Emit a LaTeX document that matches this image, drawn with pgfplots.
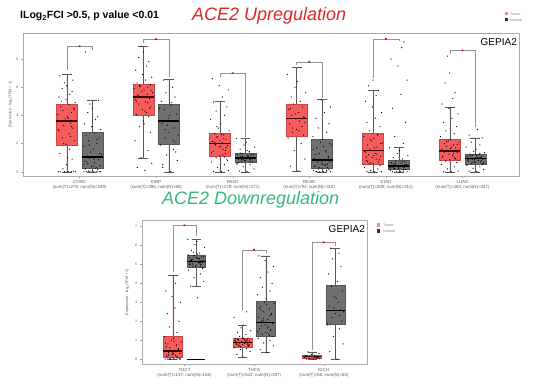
\documentclass[border=0pt]{standalone}
\usepackage{fontspec}
\setmainfont{Liberation Sans}
\usepackage{pgfplots}
\pgfplotsset{compat=1.18}
\usepackage{pgfplotstable}
\usepgfplotslibrary{statistics}
\definecolor{tumor}{RGB}{246,92,92}
\definecolor{tumordk}{RGB}{200,70,70}
\definecolor{normal}{RGB}{112,112,112}
\definecolor{normaldk}{RGB}{85,85,85}
\definecolor{upred}{RGB}{222,38,38}
\definecolor{downgreen}{RGB}{52,186,118}
\definecolor{legpink}{RGB}{236,140,150}
\definecolor{lbl}{RGB}{90,90,90}

\pgfplotstableread{
dx coadT coadN kirpT kirpN paadT paadN readT readN stadT stadN luadT luadN
0.02 0 0 0.1 0 0 0 0.05 0 0 0 0 0
-0.08 0 0 0.3 0.3 0 0.05 0.4 0 0 0 0 0.05
0.11 0 0 0.6 0.8 0.1 0.2 0.9 0 0 0 0.05 0.15
-0.03 0 0 1.0 1.2 0.3 0.35 1.5 0 0.1 0 0.2 0.25
0.06 0 0 1.5 1.6 0.5 0.5 2.0 0.05 0.2 0.05 0.35 0.35
-0.11 0 0 2.2 1.9 0.7 0.6 2.4 0.1 0.3 0.1 0.5 0.45
0.09 0.05 0 2.8 2.1 0.9 0.7 2.6 0.15 0.45 0.15 0.65 0.5
-0.05 0.2 0.05 3.2 2.4 1.0 0.75 2.8 0.2 0.55 0.2 0.75 0.6
0.00 0.5 0.1 3.6 2.8 1.15 0.8 3.0 0.25 0.6 0.25 0.85 0.65
0.07 0.9 0.15 3.9 3.1 1.3 0.85 3.2 0.3 0.7 0.3 0.95 0.7
-0.09 1.3 0.2 4.05 3.4 1.45 0.9 3.4 0.4 0.8 0.35 1.05 0.75
0.04 1.6 0.25 4.2 3.6 1.6 0.95 3.6 0.5 0.9 0.4 1.15 0.8
-0.01 1.95 0.35 4.4 3.8 1.75 1.0 3.75 0.6 1.0 0.45 1.25 0.85
0.10 2.2 0.45 4.6 4.1 1.85 1.05 3.85 0.7 1.1 0.5 1.35 0.9
-0.06 2.4 0.55 4.8 4.4 1.95 1.1 4.0 0.8 1.2 0.55 1.45 0.95
0.03 2.7 0.65 4.95 4.7 2.05 1.15 4.2 0.85 1.3 0.6 1.5 1.0
-0.10 2.9 0.75 5.1 5.0 2.15 1.2 4.4 0.95 1.4 0.65 1.6 1.05
0.08 3.1 0.85 5.2 5.3 2.3 1.25 4.6 1.1 1.5 0.7 1.7 1.1
-0.04 3.3 0.95 5.3 5.6 2.45 1.3 4.8 1.3 1.6 0.75 1.8 1.15
0.05 3.45 1.0 5.35 6.0 2.6 1.45 5.0 1.5 1.75 0.9 1.9 1.2
-0.07 3.55 1.1 5.45 6.5 2.7 1.6 5.3 1.7 1.9 1.0 2.0 1.25
0.12 3.65 1.2 5.6 2.6 2.9 1.75 5.6 1.9 2.05 1.15 2.1 1.35
-0.02 3.75 1.4 5.7 3.3 3.1 1.9 6.0 2.1 2.2 1.3 2.2 1.45
0.01 3.9 1.6 5.8 4.0 3.4 2.1 6.4 2.3 2.35 1.5 2.3 1.6
-0.12 4.05 1.8 5.9 4.5 3.7 2.35 6.9 2.5 2.5 1.7 2.5 1.75
0.06 4.2 2.0 6.0 2.2 4.0 0.72 7.4 2.8 2.65 2.0 2.7 1.9
-0.05 4.35 2.2 6.1 3.0 4.3 0.88 3.1 3.1 2.9 2.5 2.9 2.1
0.09 4.5 2.4 6.15 1.4 4.6 0.93 3.9 3.4 3.2 3.5 3.2 2.4
-0.08 4.6 2.6 6.3 0.5 4.95 1.02 4.5 3.8 3.5 4.5 3.5 2.6
0.03 4.75 2.75 6.5 4.9 5.3 1.12 2.9 4.2 3.8 5.5 3.8 3.0
0.11 4.9 3.0 6.7 nan 5.8 1.22 3.5 4.6 4.2 6.5 4.1 0.62
-0.01 5.1 3.2 6.9 nan 6.1 0.78 4.1 5.1 4.6 7.5 4.5 0.72
-0.10 5.3 3.4 7.2 nan 6.6 0.98 nan 0.35 5.0 8.0 4.8 0.82
0.04 5.5 3.7 7.5 nan 1.2 1.08 nan 0.45 5.4 8.8 5.2 0.92
0.07 5.7 3.9 7.8 nan 1.5 1.18 nan 0.55 5.75 9.2 5.6 1.02
-0.06 5.9 4.2 8.1 nan 1.9 1.28 nan 0.65 6.1 0.22 6.3 1.12
0.00 6.1 4.5 8.5 nan 2.2 0.82 nan 0.75 6.5 0.32 7.0 1.22
-0.03 6.3 4.8 8.9 nan 2.5 0.9 nan 0.9 0.65 0.42 8.2 0.68
0.08 6.5 5.05 4.5 nan 1.7 1.0 nan 1.0 0.85 0.52 0.9 0.78
-0.09 6.8 8.5 5.0 nan 2.0 0.65 nan 1.2 1.05 0.62 1.1 0.88
0.05 2.5 0.3 5.5 nan 2.35 1.4 nan 1.4 1.25 0.72 1.3 0.98
-0.11 3.0 0.5 5.25 nan 1.35 0.55 nan 1.6 1.45 0.28 1.55 1.08
0.02 3.8 0.9 4.3 nan 2.65 1.5 nan 1.8 1.7 0.38 1.75 1.18
0.10 4.4 1.3 5.75 nan 0.8 0.98 nan 2.0 2.0 0.48 1.95 0.58
-0.04 2.0 1.9 6.05 nan 3.2 1.1 nan 0.3 2.3 0.58 2.15 0.88
0.06 3.2 2.3 4.9 nan 1.05 0.86 nan 0.1 2.6 0.18 1.0 1.3
-0.07 5.0 0.7 5.4 nan 2.1 1.33 nan 0 0.75 0.3 1.4 0.95
0.01 1.0 0.4 3.4 nan 1.8 0.95 nan 0.5 1.15 0.4 1.65 1.0
}\toptab

\pgfplotstableread{
dx tgctT tgctN thcaT thcaN kichT kichN
0.02 0 3.24 0.1 0.35 0 0
-0.08 0 3.86 0.25 0.5 0 0.4
0.11 0 4.1 0.4 0.7 0.02 0.8
-0.03 0 4.3 0.5 0.85 0.04 1.2
0.06 0 4.5 0.55 1.0 0.06 1.6
-0.11 0 4.7 0.6 1.1 0.08 1.8
0.09 0.02 4.8 0.68 1.2 0.1 2.0
-0.05 0.05 4.9 0.72 1.3 0.12 2.2
0.00 0.08 4.95 0.76 1.4 0.14 2.4
0.07 0.1 5.0 0.8 1.5 0.16 2.6
-0.09 0.15 5.05 0.84 1.6 0.18 2.8
0.04 0.2 5.1 0.88 1.7 0.2 3.0
-0.01 0.25 5.15 0.92 1.8 0.25 3.3
0.10 0.3 5.2 0.96 1.9 0.3 3.6
-0.06 0.35 5.25 1.0 2.0 0.38 3.85
0.03 0.4 5.3 1.04 2.1 0.1 4.1
-0.10 0.45 5.35 1.08 2.2 0.13 4.5
0.08 0.5 5.4 1.12 2.35 0.07 4.9
-0.04 0.6 5.45 1.2 2.5 0.15 5.3
0.05 0.7 5.6 1.3 2.65 0.11 5.6
-0.07 0.8 5.75 1.4 2.8 nan 5.86
0.12 0.9 5.9 1.5 2.95 nan 2.5
-0.02 1.0 6.05 1.65 3.0 nan 2.7
0.01 1.1 6.2 1.8 3.2 nan 3.2
-0.12 1.2 6.33 2.2 3.4 nan 1.9
0.06 1.4 4.92 2.5 3.6 nan 2.3
-0.05 1.7 5.02 0.7 3.8 nan nan
0.09 2.0 5.12 0.74 4.0 nan nan
-0.08 2.4 5.22 0.78 4.3 nan nan
0.03 2.7 5.32 0.82 4.6 nan nan
0.11 3.0 5.42 0.86 4.9 nan nan
-0.01 3.3 4.88 0.9 5.2 nan nan
-0.10 3.6 4.98 0.94 5.45 nan nan
0.04 4.0 5.08 0.98 1.35 nan nan
0.07 4.4 5.18 1.02 1.55 nan nan
-0.06 0.22 5.28 1.06 1.75 nan nan
0.00 0.32 5.38 1.1 1.95 nan nan
-0.03 0.42 5.48 0.66 2.15 nan nan
0.08 0.55 5.15 0.7 2.4 nan nan
-0.09 0.65 5.0 0.8 2.7 nan nan
0.05 0.75 5.3 0.9 1.25 nan nan
-0.11 0.85 5.5 1.0 1.45 nan nan
0.02 0.95 5.55 1.1 1.65 nan nan
0.10 0 4.85 0.75 1.85 nan nan
-0.04 0 5.65 0.85 2.05 nan nan
0.06 0.12 5.1 0.95 2.3 nan nan
-0.07 0.18 5.2 1.05 2.6 nan nan
0.01 0.28 5.35 0.88 2.9 nan nan
}\bottab

\pgfplotsset{
  gepia/.style={
    scale only axis,
    axis line style={draw=gray!65, line width=0.4pt},
    tick style={draw=gray!75, line width=0.3pt},
    tick align=outside, major tick length=1.6pt,
    xtick pos=left, ytick pos=left,
    /pgf/number format/assume math mode=true,
    yticklabel style={font=\fontsize{3.6}{4}\selectfont, text=lbl, xshift=0.5pt},
    xticklabel style={font=\fontsize{4.4}{5.0}\selectfont, text=lbl, align=center, yshift=1pt},
    ylabel={Expression - log\textsubscript{2}(TPM + 1)},
    ylabel style={font=\fontsize{3.8}{4}\selectfont, text=lbl},
    boxplot/draw direction=y,
  },
  tbox/.style={fill=tumor, draw=tumordk, line width=0.35pt,
    boxplot/every box/.style={draw=tumordk, fill=tumor},
    boxplot/every median/.style={draw=black!75!red, line width=1.3pt},
    boxplot/every whisker/.style={draw=black!65, line width=0.35pt}},
  nbox/.style={fill=normal, draw=normaldk, line width=0.35pt,
    boxplot/every box/.style={draw=normaldk, fill=normal},
    boxplot/every median/.style={draw=black, line width=1.3pt},
    boxplot/every whisker/.style={draw=black!65, line width=0.35pt}},
  dots/.style={only marks, mark=*, mark size=0.33pt,
    mark options={draw=none, fill=black, fill opacity=0.65}},
  brk/.style={draw=gray!85, line width=0.35pt},
  star/.style={only marks, mark=asterisk, mark size=1.1pt, mark options={draw=red!80!black, line width=0.4pt}},
}

\begin{document}
\begin{tikzpicture}
\path[use as bounding box] (0pt,0pt) rectangle (552pt,381pt);

\node[anchor=west, inner sep=0pt, font=\bfseries\fontsize{10.5}{12}\selectfont] at (20pt,365pt) {ILog\textsubscript{2}FCI >0.5, p value <0.01};
\node[anchor=west, inner sep=0pt, font=\itshape\fontsize{18}{20}\selectfont, text=upred] at (192pt,365pt) {ACE2 Upregulation};
\node[anchor=west, inner sep=0pt, font=\itshape\fontsize{18}{20}\selectfont, text=downgreen] at (162pt,181pt) {ACE2 Downregulation};

% legends
\fill[legpink] (504.5pt,365.5pt) rectangle (508pt,369pt);
\fill[black!80] (504.5pt,359.5pt) rectangle (508pt,363pt);
\node[anchor=west, inner sep=0pt, font=\fontsize{3.6}{4}\selectfont, text=gray] at (510pt,367.2pt) {Tumor};
\node[anchor=west, inner sep=0pt, font=\fontsize{3.6}{4}\selectfont, text=gray] at (510pt,361.2pt) {Normal};
\fill[legpink] (376.5pt,154.5pt) rectangle (380pt,158pt);
\fill[black!80] (376.5pt,148.5pt) rectangle (380pt,152pt);
\node[anchor=west, inner sep=0pt, font=\fontsize{3.6}{4}\selectfont, text=gray] at (383pt,156.2pt) {Tumor};
\node[anchor=west, inner sep=0pt, font=\fontsize{3.6}{4}\selectfont, text=gray] at (383pt,150.2pt) {Normal};

% ---------------- top panel
\begin{axis}[gepia, at={(23pt,205pt)}, anchor=south west,
  width=496pt, height=143pt,
  xmin=0.262, xmax=6.738, ymin=-0.3, ymax=9.84,
  xtick={1,2,3,4,5,6}, ytick={0,2,4,6,8},
  xticklabels={{COAD\\(num(T)=275; num(N)=349)},{KIRP\\(num(T)=286; num(N)=60)},{PAAD\\(num(T)=179; num(N)=171)},{READ\\(num(T)=92; num(N)=318)},{STAD\\(num(T)=408; num(N)=211)},{LUAD\\(num(T)=483; num(N)=347)}},
  ylabel shift=-3pt]
\addplot[tbox, boxplot prepared={draw position=0.833, lower whisker=0, lower quartile=1.9, median=3.6, upper quartile=4.8, upper whisker=6.9, box extend=0.275, whisker extend=0.13}] coordinates {};
\addplot[nbox, boxplot prepared={draw position=1.167, lower whisker=0, lower quartile=0.28, median=1.04, upper quartile=2.8, upper whisker=5.1, box extend=0.275, whisker extend=0.13}] coordinates {};
\addplot[tbox, boxplot prepared={draw position=1.833, lower whisker=0.97, lower quartile=4.0, median=5.3, upper quartile=6.2, upper whisker=8.9, box extend=0.275, whisker extend=0.13}] coordinates {};
\addplot[nbox, boxplot prepared={draw position=2.167, lower whisker=0, lower quartile=1.96, median=3.6, upper quartile=4.8, upper whisker=6.55, box extend=0.275, whisker extend=0.13}] coordinates {};
\addplot[tbox, boxplot prepared={draw position=2.833, lower whisker=0, lower quartile=1.09, median=2.0, upper quartile=2.77, upper whisker=5.0, box extend=0.275, whisker extend=0.13}] coordinates {};
\addplot[nbox, boxplot prepared={draw position=3.167, lower whisker=0, lower quartile=0.67, median=0.97, upper quartile=1.35, upper whisker=2.37, box extend=0.275, whisker extend=0.13}] coordinates {};
\addplot[tbox, boxplot prepared={draw position=3.833, lower whisker=0.05, lower quartile=2.55, median=3.8, upper quartile=4.82, upper whisker=7.4, box extend=0.275, whisker extend=0.13}] coordinates {};
\addplot[nbox, boxplot prepared={draw position=4.167, lower whisker=0, lower quartile=0.26, median=0.83, upper quartile=2.34, upper whisker=5.13, box extend=0.275, whisker extend=0.13}] coordinates {};
\addplot[tbox, boxplot prepared={draw position=4.833, lower whisker=0, lower quartile=0.57, median=1.5, upper quartile=2.72, upper whisker=5.77, box extend=0.275, whisker extend=0.13}] coordinates {};
\addplot[nbox, boxplot prepared={draw position=5.167, lower whisker=0, lower quartile=0.17, median=0.4, upper quartile=0.8, upper whisker=1.73, box extend=0.275, whisker extend=0.13}] coordinates {};
\addplot[tbox, boxplot prepared={draw position=5.833, lower whisker=0, lower quartile=0.8, median=1.47, upper quartile=2.32, upper whisker=4.56, box extend=0.275, whisker extend=0.13}] coordinates {};
\addplot[nbox, boxplot prepared={draw position=6.167, lower whisker=0, lower quartile=0.55, median=0.92, upper quartile=1.28, upper whisker=2.4, box extend=0.275, whisker extend=0.13}] coordinates {};

\addplot[dots] table[x expr=\thisrow{dx}+0.833, y=coadT] {\toptab};
\addplot[dots] table[x expr=\thisrow{dx}+1.167, y=coadN] {\toptab};
\addplot[dots] table[x expr=\thisrow{dx}+1.833, y=kirpT] {\toptab};
\addplot[dots] table[x expr=\thisrow{dx}+2.167, y=kirpN] {\toptab};
\addplot[dots] table[x expr=\thisrow{dx}+2.833, y=paadT] {\toptab};
\addplot[dots] table[x expr=\thisrow{dx}+3.167, y=paadN] {\toptab};
\addplot[dots] table[x expr=\thisrow{dx}+3.833, y=readT] {\toptab};
\addplot[dots] table[x expr=\thisrow{dx}+4.167, y=readN] {\toptab};
\addplot[dots] table[x expr=\thisrow{dx}+4.833, y=stadT] {\toptab};
\addplot[dots] table[x expr=\thisrow{dx}+5.167, y=stadN] {\toptab};
\addplot[dots] table[x expr=\thisrow{dx}+5.833, y=luadT] {\toptab};
\addplot[dots] table[x expr=\thisrow{dx}+6.167, y=luadN] {\toptab};

\addplot[brk] coordinates {(0.833,7.2) (0.833,8.9) (1.167,8.9) (1.167,8.6)};
\addplot[brk] coordinates {(1.833,9.1) (1.833,9.4) (2.167,9.4) (2.167,6.7)};
\addplot[brk] coordinates {(2.833,6.75) (2.833,7.0) (3.167,7.0) (3.167,2.5)};
\addplot[brk] coordinates {(3.833,7.55) (3.833,7.8) (4.167,7.8) (4.167,5.25)};
\addplot[brk] coordinates {(4.833,6.65) (4.833,9.43) (5.167,9.43) (5.167,9.3)};
\addplot[brk] coordinates {(5.833,8.35) (5.833,8.6) (6.167,8.6) (6.167,3.2)};
\addplot[star] coordinates {(1,8.9) (2,9.4) (3,7.0) (4,7.8) (5,9.43) (6,8.6)};

\node[anchor=east, inner sep=0pt, font=\fontsize{10}{12}\selectfont] at (rel axis cs:0.996,0.935) {GEPIA2};
\end{axis}

% ---------------- bottom panel
\begin{axis}[gepia, at={(141.7pt,17pt)}, anchor=south west,
  width=225.6pt, height=144pt,
  xmin=0.385, xmax=3.626, ymin=-0.26, ymax=7.35,
  xtick={1,2,3}, ytick={0,1,2,3,4,5,6,7},
  xticklabels={{TGCT\\(num(T)=137; num(N)=165)},{THCA\\(num(T)=512; num(N)=337)},{KICH\\(num(T)=66; num(N)=53)}},
  ylabel shift=-1pt]
\addplot[tbox, boxplot prepared={draw position=0.832, lower whisker=0, lower quartile=0.12, median=0.42, upper quartile=1.22, upper whisker=4.44, box extend=0.27, whisker extend=0.13}] coordinates {};
\addplot[nbox, boxplot prepared={draw position=1.168, lower whisker=3.86, lower quartile=4.85, median=5.15, upper quartile=5.49, upper whisker=6.33, box extend=0.27, whisker extend=0.13}] coordinates {};
\addplot[tbox, boxplot prepared={draw position=1.832, lower whisker=0.1, lower quartile=0.65, median=0.88, upper quartile=1.13, upper whisker=1.8, box extend=0.27, whisker extend=0.13}] coordinates {};
\addplot[nbox, boxplot prepared={draw position=2.168, lower whisker=0.35, lower quartile=1.22, median=1.92, upper quartile=3.05, upper whisker=5.45, box extend=0.27, whisker extend=0.13}] coordinates {};
\addplot[tbox, boxplot prepared={draw position=2.832, lower whisker=0, lower quartile=0.05, median=0.12, upper quartile=0.2, upper whisker=0.38, box extend=0.27, whisker extend=0.13}] coordinates {};
\addplot[nbox, boxplot prepared={draw position=3.168, lower whisker=0, lower quartile=1.84, median=2.58, upper quartile=3.88, upper whisker=5.86, box extend=0.27, whisker extend=0.13}] coordinates {};

\addplot[black, line width=0.9pt] coordinates {(1.035,0) (1.30,0)};

\addplot[dots] table[x expr=\thisrow{dx}+0.832, y=tgctT] {\bottab};
\addplot[dots] table[x expr=\thisrow{dx}+1.168, y=tgctN] {\bottab};
\addplot[dots] table[x expr=\thisrow{dx}+1.832, y=thcaT] {\bottab};
\addplot[dots] table[x expr=\thisrow{dx}+2.168, y=thcaN] {\bottab};
\addplot[dots] table[x expr=\thisrow{dx}+2.832, y=kichT] {\bottab};
\addplot[dots] table[x expr=\thisrow{dx}+3.168, y=kichN] {\bottab};

\addplot[brk] coordinates {(0.832,4.6) (0.832,7.07) (1.168,7.07) (1.168,6.5)};
\addplot[brk] coordinates {(1.832,2.6) (1.832,5.78) (2.168,5.78) (2.168,5.6)};
\addplot[brk] coordinates {(2.832,0.5) (2.832,6.17) (3.168,6.17) (3.168,6.0)};
\addplot[star] coordinates {(1,7.07) (2,5.78) (3,6.17)};

\node[anchor=east, inner sep=0pt, font=\fontsize{10}{12}\selectfont] at (rel axis cs:0.99,0.94) {GEPIA2};
\end{axis}
\end{tikzpicture}
\end{document}
